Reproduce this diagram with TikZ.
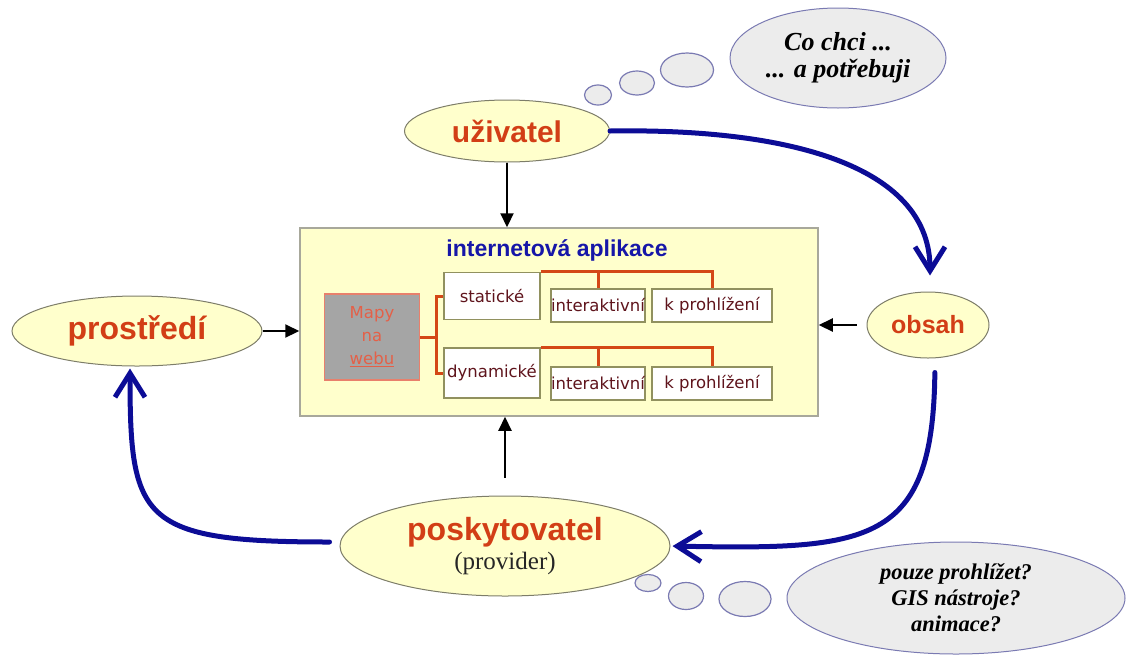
\documentclass[tikz,border=0pt]{standalone}
\usepackage{fontspec}
\setmainfont{Liberation Sans}
\newfontfamily\provfont{Liberation Serif}
\newfontfamily\boxfont{DejaVu Sans}
\usetikzlibrary{arrows.meta,shapes.geometric}
\definecolor{ellfill}{RGB}{255,255,204}
\definecolor{ellline}{RGB}{125,125,105}
\definecolor{actred}{RGB}{210,62,22}
\definecolor{loopblue}{RGB}{12,12,150}
\definecolor{titleblue}{RGB}{22,22,168}
\definecolor{boxline}{RGB}{168,168,155}
\definecolor{mapfill}{RGB}{165,165,165}
\definecolor{mapline}{RGB}{232,128,108}
\definecolor{maptext}{RGB}{228,96,72}
\definecolor{kindline}{RGB}{145,145,95}
\definecolor{kindtext}{RGB}{95,20,28}
\definecolor{branchred}{RGB}{212,72,22}
\definecolor{bubfill}{RGB}{236,236,236}
\definecolor{bubline}{RGB}{122,122,178}
\newcommand{\fsz}[1]{\fontsize{#1}{#1}\selectfont}

\tikzset{
  actor/.style={ellipse, draw=ellline, fill=ellfill, line width=1pt, inner sep=0pt, text=actred},
  thought/.style={ellipse, draw=bubline, fill=bubfill, line width=1pt, inner sep=0pt, align=center},
  puff/.style={draw=bubline, fill=bubfill, line width=1.2pt},
  kindbox/.style={draw=kindline, fill=white, line width=1.5pt, inner sep=0pt, text=kindtext, font=\boxfont\fsz{16.5}},
  branch/.style={draw=branchred, line width=3pt},
  bluearrow/.style={draw=loopblue, line width=5pt, line cap=round, -{Straight Barb[length=24pt,width=30pt]}},
  blackarrow/.style={line width=2.2pt, -{Triangle[length=14pt,width=13pt]}},
}

\begin{document}
\begin{tikzpicture}[x=1pt,y=-1pt]
\useasboundingbox (0,0) rectangle (1126,654);
% thought bubbles
\draw[puff] (598,95) ellipse (13.5 and 10);
\draw[puff] (637,83) ellipse (17.5 and 12);
\draw[puff] (687,70) ellipse (26.5 and 17);
\node[thought, minimum width=216pt, minimum height=100pt, font=\provfont\bfseries\itshape\fontsize{26}{27}\selectfont] (wish) at (838,58) {Co chci ...\\... a potřebuji};
\draw[puff] (648,583) ellipse (13 and 8.5);
\draw[puff] (686,596) ellipse (17.5 and 13.5);
\draw[puff] (745,599) ellipse (26 and 17.5);
\node[thought, minimum width=338pt, minimum height=112pt, font=\provfont\bfseries\itshape\fontsize{22.5}{26}\selectfont] (tools) at (956,598) {pouze prohlížet?\\GIS nástroje?\\animace?};
% actors
\node[actor, minimum width=205pt, minimum height=62pt, font=\bfseries\fsz{30}] (uz) at (507,131) {uživatel};
\node[actor, minimum width=250pt, minimum height=70pt, font=\bfseries\fsz{32}] (pros) at (137,331) {prostředí};
\node[actor, minimum width=122pt, minimum height=66pt, font=\bfseries\fsz{25}] (obsah) at (928,325) {obsah};
\node[actor, minimum width=330pt, minimum height=100pt, align=center] (pos) at (505,546)
  {{\bfseries\fsz{32}poskytovatel}\\[4pt]{\provfont\color{black!85}\fsz{25}(provider)}};
% application box
\node[draw=boxline, fill=ellfill, line width=1.5pt, minimum width=518pt, minimum height=188pt, inner sep=0pt] (app) at (559,322) {};
\node[text=titleblue, font=\bfseries\fsz{23}] (title) at (557,250) {internetová aplikace};
\node[draw=mapline, fill=mapfill, line width=1.5pt, minimum width=95pt, minimum height=86pt, inner sep=0pt,
  text=maptext, align=center, font=\boxfont\fontsize{16.5}{23}\selectfont] (mapy) at (372,337) {Mapy\\na\\\underline{webu}};
\node[kindbox, minimum width=96pt, minimum height=47pt] (stat) at (492,296) {statické};
\node[kindbox, minimum width=96pt, minimum height=50pt] (dyn) at (492,373) {dynamické};
\node[kindbox, minimum width=92pt, minimum height=33pt] (int1) at (598,305.5) {interaktivní};
\node[kindbox, minimum width=120pt, minimum height=33pt] (kp1) at (712,305.5) {k prohlížení};
\node[kindbox, minimum width=92pt, minimum height=33pt] (int2) at (598,383.5) {interaktivní};
\node[kindbox, minimum width=120pt, minimum height=33pt] (kp2) at (712,383.5) {k prohlížení};
% branches
\coordinate (fork) at (436,337);
\draw[branch] (mapy.east) -- (fork);
\draw[branch] (stat.west) -| (fork) |- (dyn.west);
\draw[branch] (stat.north east) -| (kp1.north);
\draw[branch] (int1.north) -- (int1.north |- stat.north east);
\draw[branch] (dyn.north east) -| (kp2.north);
\draw[branch] (int2.north) -- (int2.north |- dyn.north east);
% black arrows
\draw[blackarrow] (uz.south) -- (uz.south |- app.north);
\draw[blackarrow] (pros.east) -- (pros.east -| app.west);
\draw[blackarrow, shorten <=10pt] (obsah.west) -- (obsah.west -| app.east);
\draw[blackarrow, shorten <=18pt] (pos.north) -- (pos.north |- app.south);
% blue cycle
\draw[bluearrow, shorten >=16pt] (uz.east) .. controls (800,128) and (930,170) .. ([xshift=2pt]obsah.north);
\draw[bluearrow, shorten <=14pt, shorten >=2pt] ([xshift=7pt]obsah.south) .. controls (933,545) and (870,550) .. (pos.east);
\draw[bluearrow, shorten <=10pt, shorten >=2pt] ([yshift=4pt]pos.west) .. controls (140,542) and (130,520) .. ([xshift=-7pt]pros.south);
\end{tikzpicture}
\end{document}
